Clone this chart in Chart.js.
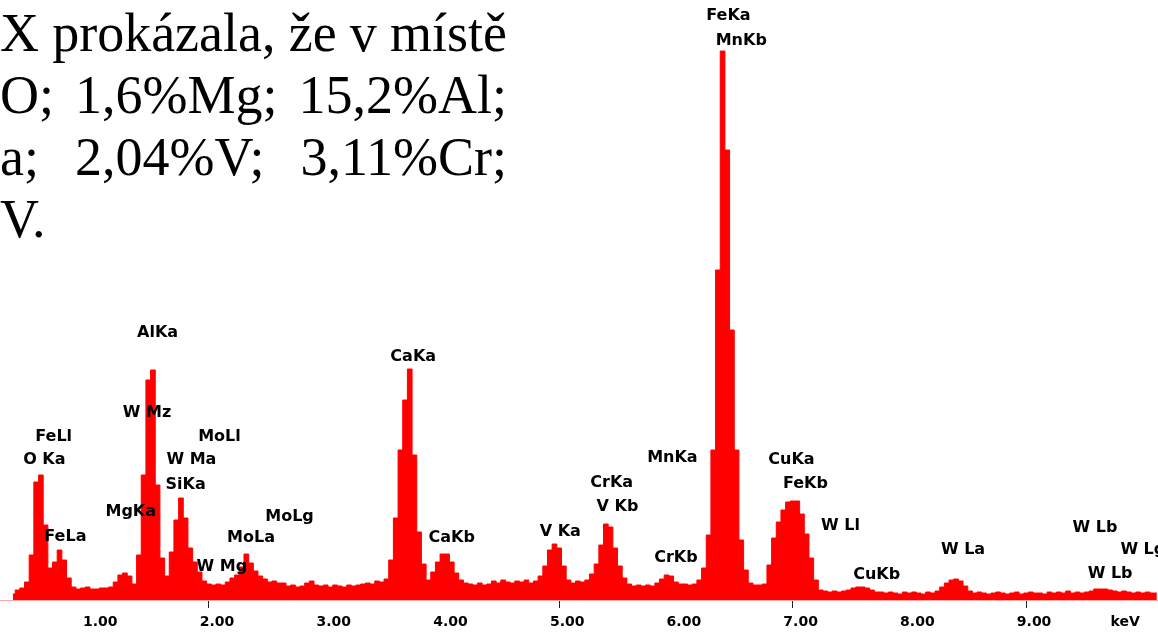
<!DOCTYPE html>
<html>
<head>
<meta charset="utf-8">
<script src="https://cdn.jsdelivr.net/npm/chart.js@4.4.0/dist/chart.umd.min.js"></script>
<style>
  html, body { margin: 0; padding: 0; background: #fff; }
  #wrap { position: relative; width: 1158px; height: 633px; overflow: hidden; }
  #spectrum { position: absolute; left: 0; top: 0; }
  .line {
    position: absolute; left: 0; width: 507px;
    display: flex; justify-content: space-between; white-space: nowrap;
    font-family: "Liberation Serif", "Times New Roman", serif;
    font-size: 54px; line-height: 62px; color: #000;
  }
  .line.last { justify-content: flex-start; }
</style>
</head>
<body>
<div id="wrap">
  <canvas id="spectrum" width="1158" height="633"></canvas>
  <div class="line" style="top:2px"><span>X</span><span>prokázala,</span><span>že</span><span>v</span><span>místě</span></div>
  <div class="line" style="top:64px"><span>O;</span><span>1,6%Mg;</span><span>15,2%Al;</span></div>
  <div class="line" style="top:126px"><span>a;</span><span>2,04%V;</span><span>3,11%Cr;</span></div>
  <div class="line last" style="top:188px"><span>V.</span></div>
</div>
<script>
// EDX spectrum, one value per 0.04 keV channel starting at 0.32 keV
const channelStart = 0.32;
const channelWidth = 0.04;
const counts = [
  // 0.32 - 1.00
  6, 10, 12, 18, 45, 118, 125, 75, 32, 38, 50, 40, 22, 13, 11, 12, 13, 11,
  // 1.04 - 2.00
  11, 12, 12, 13, 18, 25, 27, 24, 16, 45, 125, 220, 230, 115, 42, 24, 48, 80, 102, 82, 52, 38, 28, 19, 16,
  // 2.04 - 3.00
  15, 16, 15, 18, 22, 25, 33, 46, 37, 29, 24, 21, 18, 19, 17, 17, 14, 15, 13, 14, 17, 19, 15, 14, 15,
  // 3.04 - 4.00
  13, 15, 14, 13, 15, 14, 15, 16, 17, 16, 19, 18, 21, 40, 82, 150, 200, 231, 145, 68, 36, 20, 28, 38, 46,
  // 4.04 - 5.00
  46, 38, 27, 20, 17, 16, 15, 17, 15, 16, 19, 17, 20, 18, 17, 19, 18, 20, 17, 19, 24, 34, 50, 56, 52,
  // 5.04 - 6.00
  34, 20, 17, 19, 18, 20, 26, 36, 55, 76, 73, 52, 34, 22, 16, 14, 15, 14, 15, 14, 17, 21, 25, 24, 18,
  // 6.04 - 7.00
  16, 16, 15, 16, 20, 32, 65, 150, 330, 549, 450, 270, 150, 60, 30, 17, 15, 15, 16, 35, 62, 78, 90, 98, 99,
  // 7.04 - 8.00
  99, 86, 66, 42, 20, 10, 9, 8, 9, 8, 9, 10, 12, 13, 13, 12, 10, 8, 8, 7, 8, 7, 6, 8, 7,
  // 8.04 - 9.00
  8, 7, 6, 8, 7, 9, 13, 17, 20, 21, 19, 14, 9, 7, 8, 7, 6, 7, 8, 7, 6, 7, 8, 6, 7,
  // 9.04 - 10.00
  8, 7, 7, 6, 8, 7, 8, 7, 9, 7, 8, 7, 8, 9, 11, 11, 11, 10, 9, 8, 9, 8, 7, 8, 7,
  // 10.04 - 10.12
  8, 7, 7
];

// the unit label sits a little left of where a 10.00 tick would be
const tickValues = [1, 2, 3, 4, 5, 6, 7, 8, 9, 9.78];
const tickLabels = ['1.00', '2.00', '3.00', '4.00', '5.00', '6.00', '7.00', '8.00', '9.00', 'keV'];
const markedTicks = [2, 5, 7, 9];

const peakNames = ['FeKa', 'MnKb', 'AlKa', 'W Mz', 'FeLl', 'MoLl', 'O Ka', 'W Ma', 'SiKa', 'MgKa',
  'MoLg', 'FeLa', 'MoLa', 'W Mg', 'CaKa', 'CaKb', 'V Ka', 'CrKa', 'V Kb', 'MnKa', 'CrKb',
  'CuKa', 'FeKb', 'W Ll', 'W La', 'CuKb', 'W Lb', 'W Lg', 'W Lb'];
const peakEnergies = [6.45, 6.56, 1.56, 1.47, 0.67, 2.09, 0.59, 1.85, 1.80, 1.33,
  2.69, 0.77, 2.36, 2.11, 3.75, 4.08, 5.01, 5.45, 5.50, 5.97, 6.00,
  6.99, 7.11, 7.41, 8.46, 7.72, 9.59, 10.0, 9.72];
const peakHeights = [584, 559, 267, 187, 163, 163, 140, 140, 115, 88,
  83, 63, 62, 33, 243, 62, 68, 117, 93, 142, 42,
  140, 116, 74, 50, 25, 72, 50, 26];

const energies = counts.map((c, i) => +(channelStart + i * channelWidth).toFixed(2));

const peakLabelPlugin = {
  id: 'peakLabels',
  afterDatasetsDraw(chart) {
    const { ctx, scales: { x, y } } = chart;
    ctx.save();
    ctx.font = 'bold 16px "DejaVu Sans"';
    ctx.fillStyle = '#000';
    ctx.textAlign = 'center';
    ctx.textBaseline = 'middle';
    peakNames.forEach((name, i) => {
      ctx.fillText(name, x.getPixelForValue(peakEnergies[i]), y.getPixelForValue(peakHeights[i]));
    });
    ctx.restore();
  }
};

new Chart(document.getElementById('spectrum').getContext('2d'), {
  type: 'line',
  data: {
    datasets: [{
      data: counts.map((c, i) => ({ x: energies[i], y: c })),
      stepped: 'middle',
      fill: 'origin',
      backgroundColor: '#ff0000',
      borderColor: '#ff0000',
      borderWidth: 1,
      pointRadius: 0
    }]
  },
  options: {
    responsive: false,
    animation: false,
    layout: { padding: 0 },
    plugins: {
      legend: { display: false },
      tooltip: { enabled: false }
    },
    scales: {
      x: {
        type: 'linear',
        min: 0.21,
        max: 10.13,
        afterBuildTicks: s => { s.ticks = tickValues.map(v => ({ value: v })); },
        afterFit: s => { s.height = 33; s.paddingLeft = 0; s.paddingRight = 0; },
        border: { display: true, color: '#f6a8a8', width: 1 },
        grid: {
          drawOnChartArea: false,
          drawTicks: true,
          tickLength: 8,
          lineWidth: 1,
          color: ctx => markedTicks.includes(ctx.tick && ctx.tick.value) ? '#222' : 'rgba(0,0,0,0)'
        },
        ticks: {
          autoSkip: false,
          maxRotation: 0,
          minRotation: 0,
          padding: 6,
          labelOffset: 8,
          color: '#000',
          font: { family: 'DejaVu Sans', size: 14, weight: 'bold' },
          callback: (v, i) => tickLabels[i]
        }
      },
      y: {
        display: false,
        min: 0,
        max: 600
      }
    }
  },
  plugins: [peakLabelPlugin]
});
</script>
</body>
</html>
